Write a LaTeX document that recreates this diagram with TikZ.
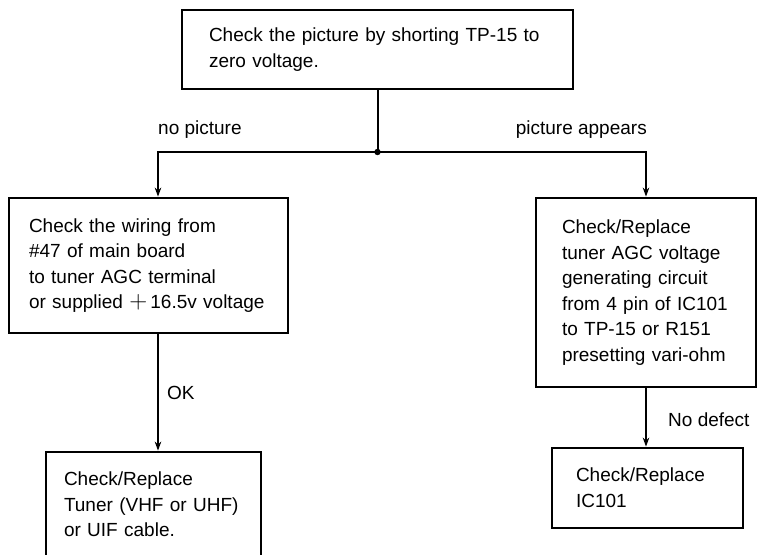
\documentclass[tikz,border=0pt]{standalone}
\usepackage{fontspec}
\setmainfont{Liberation Sans}
\usetikzlibrary{arrows.meta,calc}
\begin{document}
\begin{tikzpicture}[x=1pt,y=-1pt,
  box/.style={draw,line width=2.8pt,align=left,inner ysep=0pt,
    font=\fontsize{19}{25.6}\selectfont},
  conn/.style={line width=2pt},
  arr/.style={conn,-{Stealth[length=9pt,width=6.5pt]}},
  lbl/.style={font=\fontsize{19}{25.6}\selectfont,inner sep=0pt}]
\useasboundingbox (0,0) rectangle (757,554);
\clip (0,0) rectangle (757,554);
\node[box,inner xsep=27pt,text width=337pt,minimum height=79pt] (top) at (377.5,49.5)
  {Check the picture by shorting TP-15 to\\zero voltage.};
\node[box,inner xsep=20pt,text width=239pt,minimum height=135pt] (lbox) at (148.5,265.5)
  {Check the wiring from\\\#47 of main board\\to tuner AGC terminal\\or supplied {\fontsize{26}{25.6}\selectfont$+$}\,16.5v voltage};
\node[box,inner xsep=26pt,text width=168pt,minimum height=189pt] (rbox) at (646,292.5)
  {Check/Replace\\tuner AGC voltage\\generating circuit\\from 4 pin of IC101\\to TP-15 or R151\\presetting vari-ohm};
\node[box,inner xsep=18pt,text width=179pt,minimum height=105pt] (llbox) at (153.5,504.5)
  {Check/Replace\\Tuner (VHF or UHF)\\or UIF cable.};
\node[box,inner xsep=24pt,text width=143pt,minimum height=80pt] (lrbox) at (647.5,488)
  {Check/Replace\\IC101};
\coordinate (j) at (top.south |- 0,152);
\coordinate (lin) at ($(lbox.north)+(9.5,0)$);
\coordinate (lout) at ($(lbox.south)+(9.5,0)$);
\coordinate (llin) at (lout |- llbox.north);
\coordinate (rin) at (rbox.north);
\draw[conn] (top.south) -- (j);
\fill (j) circle (3.2pt);
\draw[arr] (j) -| (lin);
\draw[arr] (j) -| (rin);
\draw[arr] (lout) -- (llin);
\draw[arr] (rbox.south) -- (rbox.south |- lrbox.north);
\node[lbl,anchor=west] (np) at (158,130) {no picture};
\node[lbl,anchor=east] (pa) at (647,130) {picture appears};
\node[lbl,anchor=west] (ok) at (167,393) {OK};
\node[lbl,anchor=west] (nd) at (668,420) {No defect};
\end{tikzpicture}
\end{document}
